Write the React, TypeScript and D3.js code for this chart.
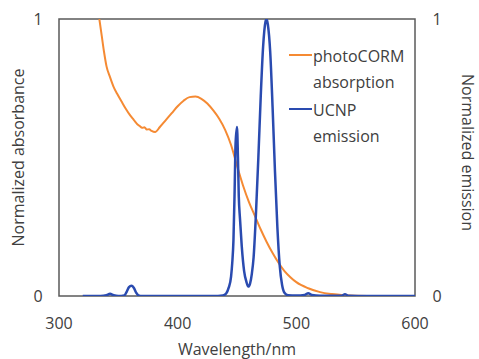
import React from 'react'
import * as d3 from 'd3'

// photoCORM absorption (normalized, clipped at 1)
const absWl = [334, 336, 338, 340, 343, 346, 349, 353, 356, 360, 363, 366, 368, 370, 372, 374, 376, 378, 381, 385, 390, 395, 400, 405, 410, 415, 420, 425, 430, 435, 440, 445, 450, 455, 460, 465, 470, 475, 480, 485, 490, 495, 500, 510, 520, 530, 540, 550, 570, 600]
const absVal = [1.0, 0.94, 0.88, 0.83, 0.79, 0.755, 0.73, 0.7, 0.678, 0.652, 0.636, 0.62, 0.614, 0.607, 0.609, 0.601, 0.602, 0.596, 0.592, 0.61, 0.635, 0.66, 0.685, 0.705, 0.718, 0.72, 0.712, 0.695, 0.67, 0.64, 0.6, 0.545, 0.47, 0.4, 0.34, 0.29, 0.24, 0.195, 0.155, 0.12, 0.09, 0.068, 0.05, 0.028, 0.014, 0.007, 0.003, 0.001, 0, 0]

// UCNP emission (normalized)
const emWl = [320, 335, 340, 343, 346, 350, 355, 357, 359, 361, 363, 365, 367, 370, 400, 430, 438, 441, 443, 445, 446, 447, 448, 448.8, 450, 450.8, 451.5, 452.5, 454, 456, 458, 459.5, 461, 462.5, 464, 466, 468, 470, 472, 474, 475, 476, 478, 480, 482, 484, 486, 488, 490, 493, 500, 507, 510, 513, 520, 538, 541, 544, 560, 600]
const emVal = [0, 0, 0.003, 0.008, 0.003, 0, 0.002, 0.015, 0.032, 0.037, 0.03, 0.012, 0.002, 0, 0, 0, 0.002, 0.01, 0.03, 0.07, 0.12, 0.2, 0.38, 0.55, 0.61, 0.5, 0.36, 0.28, 0.18, 0.09, 0.05, 0.034, 0.045, 0.08, 0.14, 0.3, 0.5, 0.72, 0.9, 0.99, 1.0, 0.98, 0.88, 0.68, 0.45, 0.25, 0.11, 0.04, 0.012, 0.003, 0.002, 0.004, 0.01, 0.004, 0.001, 0.001, 0.006, 0.001, 0, 0]

const xTicks = [300, 400, 500, 600]
const yTicks = [0, 1]

const ORANGE = '#F58A33'
const BLUE = '#2A4BB0'
const TEXT = '#404040'
const FONT = '"Open Sans", "Noto Sans", sans-serif'

export default function App() {
  const W = 479
  const H = 359
  const m = { left: 59, right: 64, top: 19, bottom: 63 }

  const x = d3.scaleLinear().domain([300, 600]).range([m.left, W - m.right])
  const y = d3.scaleLinear().domain([0, 1]).range([H - m.bottom, m.top])

  const absData = absWl.map((w, i) => [w, absVal[i]] as [number, number])
  const emData = emWl.map((w, i) => [w, emVal[i]] as [number, number])

  const line = d3.line<[number, number]>()
    .x(d => x(d[0]))
    .y(d => y(d[1]))
    .curve(d3.curveMonotoneX)

  const x0 = x(300), x1 = x(600), y0 = y(0), y1 = y(1)

  return (
    <svg width={W} height={H} style={{ position: 'absolute', left: 0, top: 0, background: '#fff' }}
      fontFamily={FONT}>
      <defs>
        <clipPath id="plot">
          <rect x={x0} y={y1} width={x1 - x0} height={y0 - y1} />
        </clipPath>
      </defs>
      <rect x={x0} y={y1} width={x1 - x0} height={y0 - y1} fill="none" stroke="#5a5a5a" strokeWidth={1.5} />
      <g clipPath="url(#plot)">
        <path d={line(absData) || ''} fill="none" stroke={ORANGE} strokeWidth={2} />
        <path d={line(emData) || ''} fill="none" stroke={BLUE} strokeWidth={2.5} />
      </g>

      {xTicks.map(t => (
        <text key={t} x={x(t)} y={y0 + 33} textAnchor="middle" fontSize={16} fill={TEXT}>{t}</text>
      ))}
      {yTicks.map(t => (
        <text key={'l' + t} x={x0 - 21} y={y(t) + 6} textAnchor="middle" fontSize={16} fill={TEXT}>{t}</text>
      ))}
      {yTicks.map(t => (
        <text key={'r' + t} x={x1 + 22} y={y(t) + 6} textAnchor="middle" fontSize={16} fill={TEXT}>{t}</text>
      ))}

      <text x={(x0 + x1) / 2} y={355} textAnchor="middle" fontSize={16} fill={TEXT}>Wavelength/nm</text>
      <text transform={`translate(24,${(y0 + y1) / 2}) rotate(-90)`} textAnchor="middle" fontSize={16} fill={TEXT}>Normalized absorbance</text>
      <text transform={`translate(462,${(y0 + y1) / 2 - 5}) rotate(90)`} textAnchor="middle" fontSize={16} fill={TEXT}>Normalized emission</text>

      <g fontSize={16} fill={TEXT}>
        <line x1={289} x2={312} y1={55} y2={55} stroke={ORANGE} strokeWidth={2} />
        <text x={313} y={62}>photoCORM</text>
        <text x={313} y={88}>absorption</text>
        <line x1={289} x2={312} y1={109} y2={109} stroke={BLUE} strokeWidth={2} />
        <text x={313} y={116}>UCNP</text>
        <text x={313} y={142}>emission</text>
      </g>
    </svg>
  )
}
